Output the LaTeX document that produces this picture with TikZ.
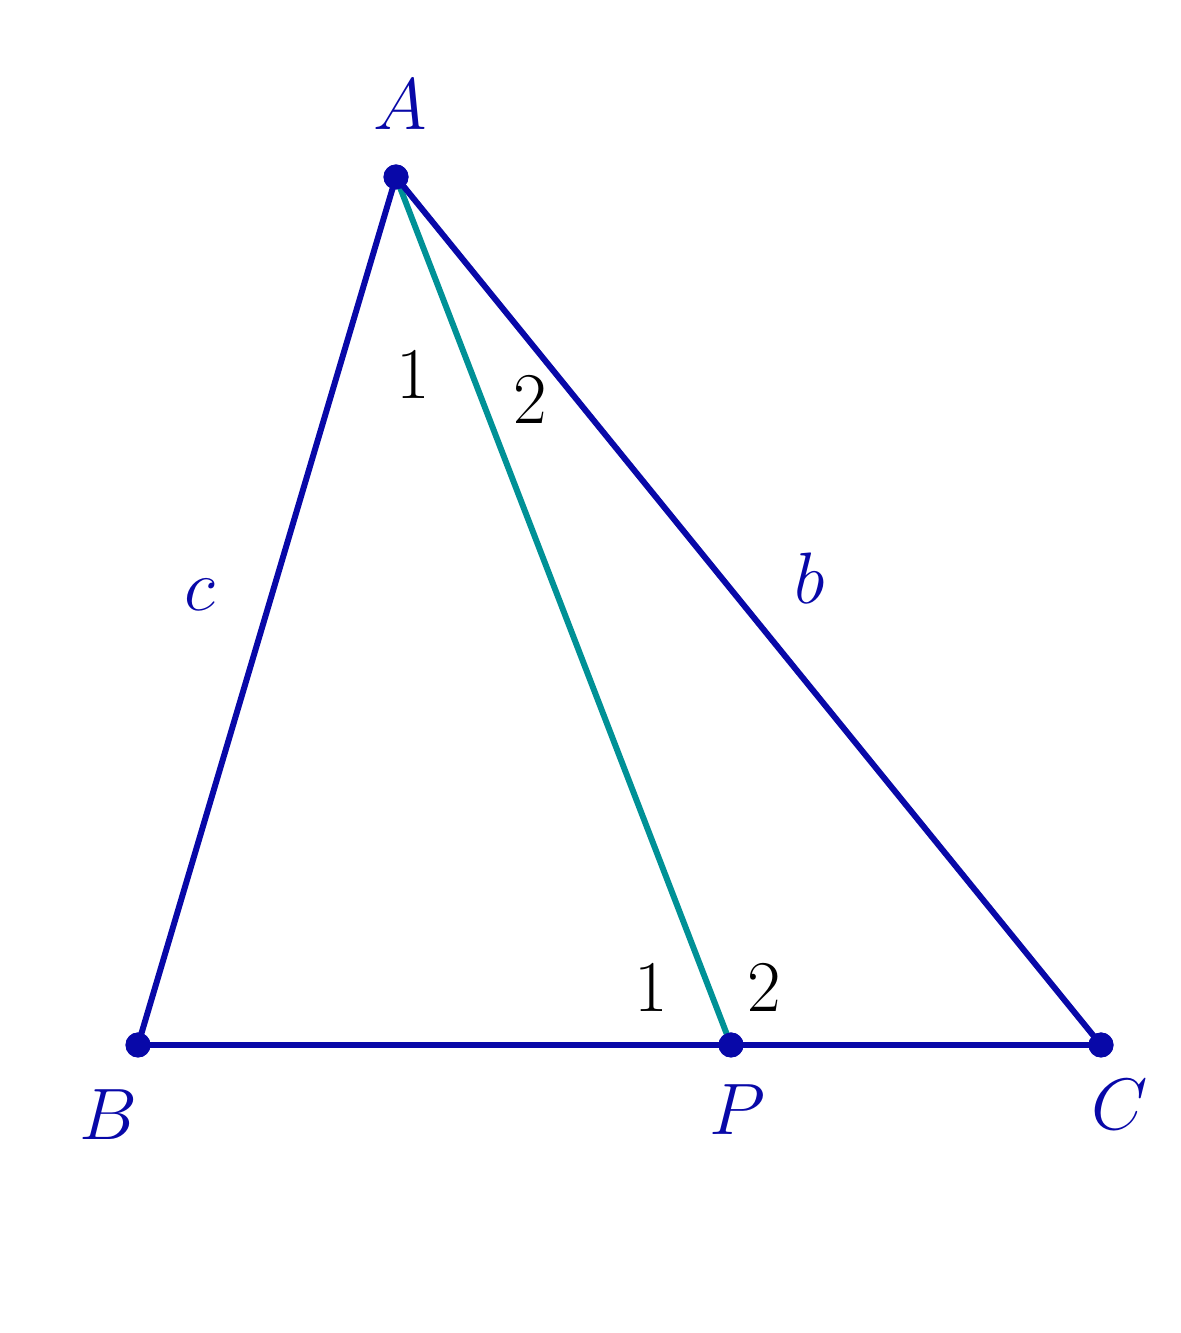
\documentclass[tikz,border=0pt]{standalone}
\usepackage{amsmath, amssymb}

\definecolor{sideblue}{RGB}{8,8,168}
\definecolor{cevteal}{RGB}{0,145,150}

\begin{document}
\begin{tikzpicture}[
        vertex/.style={circle, fill=sideblue, inner sep=0pt, minimum size=0.25cm},
        side/.style={draw=sideblue, line width=1.7pt},
        cevian/.style={draw=cevteal, line width=1.7pt},
        ptlabel/.style={text=sideblue, font=\fontsize{20}{24}\selectfont},
        anglabel/.style={text=black, font=\fontsize{20}{24}\selectfont}
      ]
      \useasboundingbox (0,0) rectangle (11.8,13.33);

      \node[vertex] (A) at (3.96,11.56) {};
      \node[vertex] (B) at (1.38,2.88) {};
      \node[vertex] (P) at (7.31,2.88) {};
      \node[vertex] (C) at (11.01,2.88) {};

      \draw[cevian] (A.center) -- (P.center);
      \draw[side] (A.center) -- (B.center) -- (C.center) -- cycle;
      \node[vertex] at (A) {};
      \node[vertex] at (B) {};
      \node[vertex] at (P) {};
      \node[vertex] at (C) {};

      \node[ptlabel] (labA) at (4.00,12.28) {$A$};
      \node[ptlabel] (labB) at (1.08,2.18) {$B$};
      \node[ptlabel] (labP) at (7.37,2.23) {$P$};
      \node[ptlabel] (labC) at (11.20,2.28) {$C$};
      \node[ptlabel] (labc) at (2.00,7.38) {$c$};
      \node[ptlabel] (labb) at (8.10,7.55) {$b$};

      \node[anglabel] (angA1) at (4.13,9.58) {$1$};
      \node[anglabel] (angA2) at (5.30,9.33) {$2$};
      \node[anglabel] (angP1) at (6.51,3.45) {$1$};
      \node[anglabel] (angP2) at (7.64,3.45) {$2$};

      \end{tikzpicture}
\end{document}
